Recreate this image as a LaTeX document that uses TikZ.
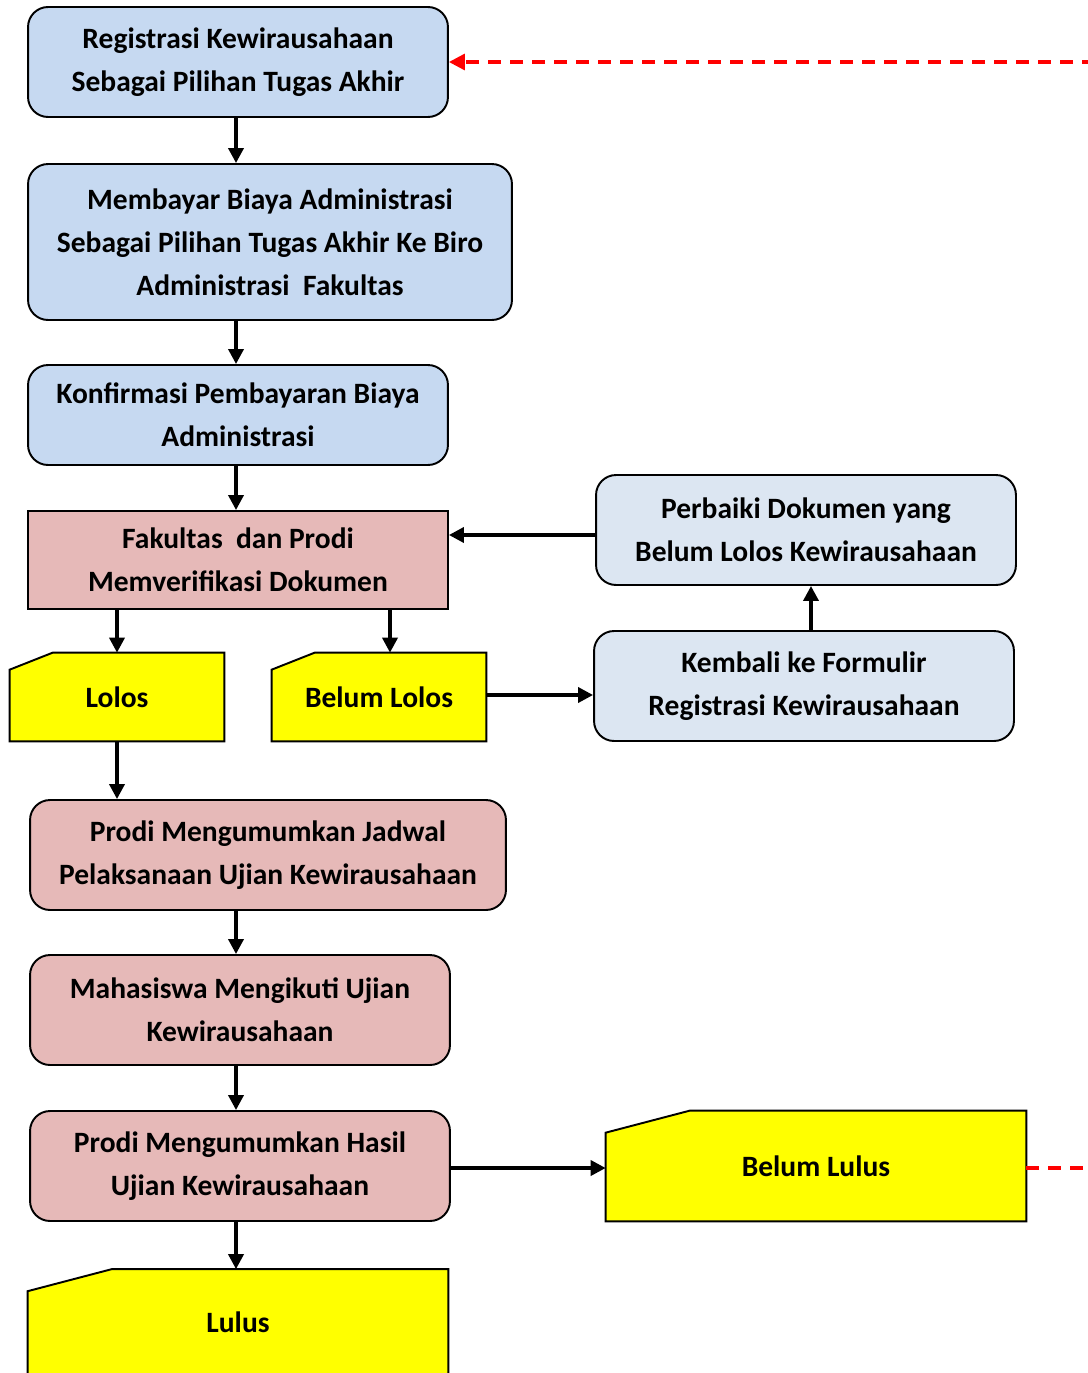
\documentclass[tikz,border=0pt]{standalone}
\usepackage{fontspec}
\setmainfont{Carlito}
\usepackage{tikz}
\usetikzlibrary{calc}
\usetikzlibrary{arrows.meta}
\usetikzlibrary{backgrounds}
\definecolor{boxblue}{HTML}{C6D9F1}
\definecolor{boxpale}{HTML}{DCE6F2}
\definecolor{boxpink}{HTML}{E6B9B8}
\definecolor{cardyellow}{HTML}{FFFF00}
\tikzset{
	bluestyle/.style={rectangle,rounded corners=0.4cm,draw=black,line width=1.1pt,fill=boxblue,align=center,minimum width=8.4cm,minimum height=2.2cm},
	palestyle/.style={bluestyle,fill=boxpale},
	pinkstyle/.style={bluestyle,fill=boxpink},
	squarestyle/.style={pinkstyle,rounded corners=0pt},
	cardstyle/.style={rectangle,align=center,minimum width=8.4cm,minimum height=2.2cm},
	cardline/.style={draw=black,line width=1.1pt,fill=cardyellow},
	arr/.style={line width=2pt,-{Triangle[length=0.3cm,width=0.3cm]}},
	redline/.style={draw=red,line width=1.8pt,dash pattern=on 0.26cm off 0.18cm}
}

\begin{document}
\begin{tikzpicture}[x=0.02cm,y=-0.02cm]
	\fontsize{16.8}{24.4}\selectfont\bfseries
	\useasboundingbox (0,0) rectangle (1088,1373);
	\clip (0,0) rectangle (1088,1373);
	\node[bluestyle] (reg) at (238,62) {Registrasi Kewirausahaan\\Sebagai Pilihan Tugas Akhir};
	\node[bluestyle,minimum width=9.68cm,minimum height=3.12cm] (bayar) at (270,242) {Membayar Biaya Administrasi\\Sebagai Pilihan Tugas Akhir Ke Biro\\Administrasi\ \ Fakultas};
	\node[bluestyle,minimum height=2cm] (konf) at (238,415) {Konfirmasi Pembayaran Biaya\\Administrasi};
	\node[squarestyle,minimum height=1.96cm] (verif) at (238,560) {Fakultas\ \ dan Prodi\\Memverifikasi Dokumen};
	\node[cardstyle,minimum width=4.28cm,minimum height=1.76cm] (lolos) at (117,697) {Lolos};
	\node[cardstyle,minimum width=4.28cm,minimum height=1.76cm] (blolos) at (379,697) {Belum Lolos};
	\node[palestyle] (perbaiki) at (806,530) {Perbaiki Dokumen yang\\Belum Lolos Kewirausahaan};
	\node[palestyle] (kembali) at (804,686) {Kembali ke Formulir\\Registrasi Kewirausahaan};
	\node[pinkstyle,minimum width=9.52cm] (jadwal) at (268,855) {Prodi Mengumumkan Jadwal\\Pelaksanaan Ujian Kewirausahaan};
	\node[pinkstyle] (ujian) at (240,1010) {Mahasiswa Mengikuti Ujian\\Kewirausahaan};
	\node[pinkstyle] (hasil) at (240,1166) {Prodi Mengumumkan Hasil\\Ujian Kewirausahaan};
	\node[cardstyle] (blulus) at (816,1166) {Belum Lulus};
	\node[cardstyle,minimum height=2.1cm] (lulus) at (238,1322) {Lulus};
	\coordinate (regin) at (1095,62);
	\coordinate (lulusout) at (1095,1168);
	\begin{scope}[on background layer]
		\clip (0,0) rectangle (1088,1373);
		\filldraw[cardline] ($(lolos.north west)+(0,17)$) -- ($(lolos.north west)+(43,0)$) -- (lolos.north east) -- (lolos.south east) -- (lolos.south west) -- cycle;
		\filldraw[cardline] ($(blolos.north west)+(0,17)$) -- ($(blolos.north west)+(43,0)$) -- (blolos.north east) -- (blolos.south east) -- (blolos.south west) -- cycle;
		\filldraw[cardline] ($(blulus.north west)+(0,22)$) -- ($(blulus.north west)+(84,0)$) -- (blulus.north east) -- (blulus.south east) -- (blulus.south west) -- cycle;
		\filldraw[cardline] ($(lulus.north west)+(0,22)$) -- ($(lulus.north west)+(84,0)$) -- (lulus.north east) -- (lulus.south east) -- (lulus.south west) -- cycle;
	\end{scope}
	\draw[arr] ($(reg.south)+(-2,0)$) -- ($(bayar.north -| reg.south)+(-2,0)$);
	\draw[arr] ($(bayar.south -| konf.north)+(-2,0)$) -- ($(konf.north)+(-2,0)$);
	\draw[arr] ($(konf.south)+(-2,0)$) -- ($(verif.north)+(-2,0)$);
	\draw[arr] (verif.south -| lolos.north) -- (lolos.north);
	\draw[arr] ($(verif.south)+(152,0)$) -- ($(blolos.north)+(11,0)$);
	\draw[arr] ($(blolos.east)+(0,-2)$) -- ($(blolos.east -| kembali.west)+(0,-2)$);
	\draw[arr] ($(kembali.north)+(7,0)$) -- ($(perbaiki.south)+(5,0)$);
	\draw[arr] ($(perbaiki.west)+(0,5)$) -- ($(perbaiki.west -| verif.east)+(0,5)$);
	\draw[arr] (lolos.south) -- (lolos.south |- jadwal.north);
	\draw[arr] ($(jadwal.south -| ujian.north)+(-4,0)$) -- ($(ujian.north)+(-4,0)$);
	\draw[arr] ($(ujian.south)+(-4,0)$) -- ($(hasil.north)+(-4,0)$);
	\draw[arr] ($(hasil.east)+(0,2)$) -- ($(blulus.west)+(0,2)$);
	\draw[arr] ($(hasil.south)+(-4,0)$) -- ($(lulus.north)+(-2,0)$);
	\draw[redline,-{Triangle[length=0.32cm,width=0.32cm]}] (regin) -- (reg.east);
	\draw[redline] ($(blulus.east)+(0,2)$) -- (lulusout);
\end{tikzpicture}
\end{document}
